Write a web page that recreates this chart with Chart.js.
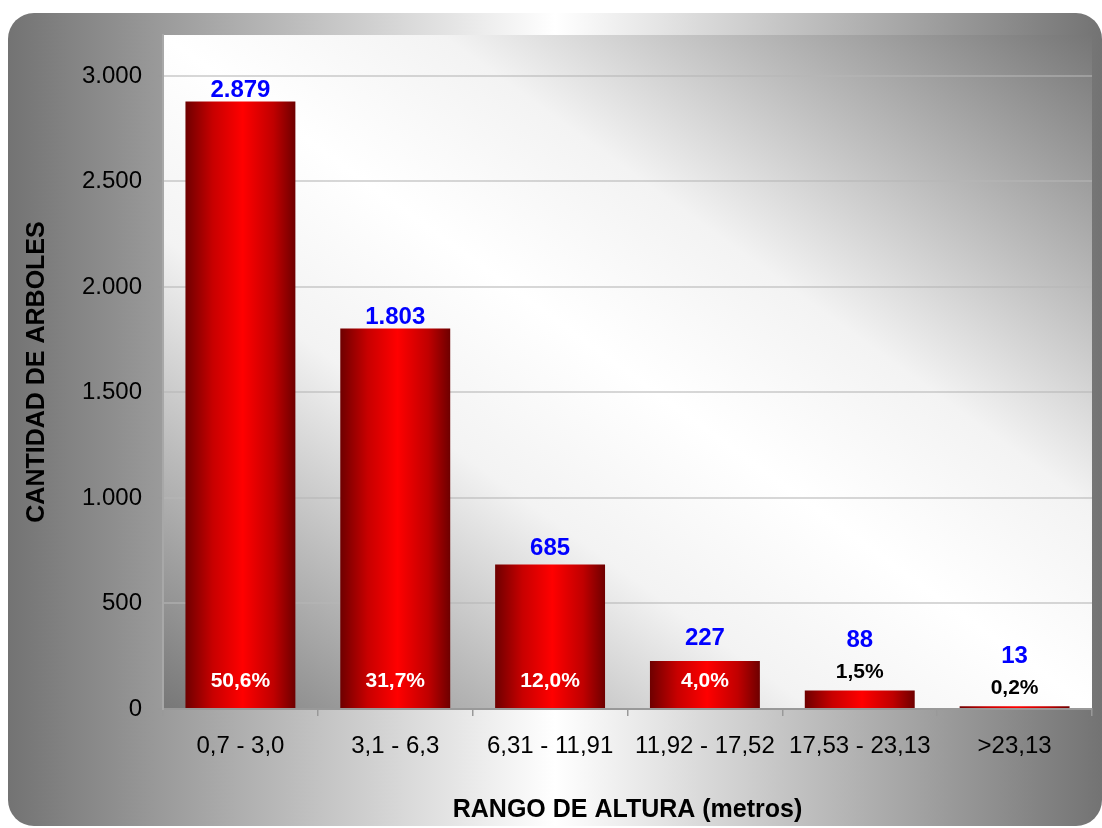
<!DOCTYPE html>
<html>
<head>
<meta charset="utf-8">
<title>Cantidad de árboles por rango de altura</title>
<script src="https://cdn.jsdelivr.net/npm/chart.js@4/dist/chart.umd.min.js"></script>
<style>
  html, body { margin: 0; padding: 0; background: #fff; }
  #grafico-wrap { width: 1102px; height: 828px; }
</style>
</head>
<body>
<div id="grafico-wrap"><canvas id="alturas"></canvas></div>
<script>
"use strict";

// Datos
var rangos = ["0,7 - 3,0", "3,1 - 6,3", "6,31 - 11,91", "11,92 - 17,52", "17,53 - 23,13", ">23,13"];
var arboles = [2879, 1803, 685, 227, 88, 13];
var porcentajes = [50.6, 31.7, 12.0, 4.0, 1.5, 0.2];
var ticksY = [0, 500, 1000, 1500, 2000, 2500, 3000];

var FUENTE = '"Liberation Sans", Arial, sans-serif';
Chart.defaults.font.family = FUENTE;

function miles(v) {
	return String(v).replace(/\B(?=(\d{3})+(?!\d))/g, '.');
}
function porciento(p) {
	return p.toFixed(1).replace('.', ',') + '%';
}

// fondo gris redondeado + degradado diagonal del area de trazado
var fondo = {
	id: 'fondo',
	beforeDraw: function(chart) {
		var ctx = chart.ctx, a = chart.chartArea;
		ctx.save();
		var g = ctx.createLinearGradient(8, 0, 1102, 0);
		g.addColorStop(0, '#737373');
		g.addColorStop(0.5, '#ffffff');
		g.addColorStop(1, '#737373');
		ctx.fillStyle = g;
		ctx.beginPath();
		ctx.roundRect(8, 13, 1094, 813, 26);
		ctx.fill();

		// degradado perpendicular a la diagonal sup-izq -> inf-der
		var w = a.right - a.left, h = a.bottom - a.top;
		var cx = a.left + w / 2, cy = a.top + h / 2;
		var len = Math.sqrt(w * w + h * h);
		var nx = h / len, ny = -w / len;
		var k = Math.abs((-w / 2) * nx + (h / 2) * ny);
		var g2 = ctx.createLinearGradient(cx - k * nx, cy - k * ny, cx + k * nx, cy + k * ny);
		g2.addColorStop(0, '#777777');
		g2.addColorStop(0.2, '#bdbdbd');
		g2.addColorStop(0.35, '#f3f3f3');
		g2.addColorStop(0.5, '#ffffff');
		g2.addColorStop(0.65, '#f3f3f3');
		g2.addColorStop(0.8, '#bdbdbd');
		g2.addColorStop(1, '#767676');
		ctx.fillStyle = g2;
		ctx.fillRect(a.left, a.top, w, h);
		ctx.restore();
	}
};

// cantidad (azul) y porcentaje sobre cada barra
var etiquetas = {
	id: 'etiquetas',
	afterDatasetsDraw: function(chart) {
		var ctx = chart.ctx;
		var meta = chart.getDatasetMeta(0);
		ctx.save();
		ctx.textAlign = 'center';
		ctx.textBaseline = 'middle';
		meta.data.forEach(function(bar, i) {
			var alto = bar.base - bar.y;
			var yVal;
			ctx.font = 'bold 21px ' + FUENTE;
			if (alto > 40) {
				ctx.fillStyle = '#ffffff';
				ctx.fillText(porciento(porcentajes[i]), bar.x, bar.base - 27);
				yVal = bar.y - (alto > 300 ? 11 : alto > 80 ? 16 : 23);
			} else {
				ctx.fillStyle = '#000000';
				ctx.fillText(porciento(porcentajes[i]), bar.x, bar.y - 18);
				yVal = bar.y - 50;
			}
			ctx.font = 'bold 24px ' + FUENTE;
			ctx.fillStyle = '#0000ff';
			ctx.fillText(miles(arboles[i]), bar.x, yVal);
		});
		ctx.restore();
	}
};

function rojoBarra(c) {
	var chart = c.chart, x = chart.scales.x;
	if (!chart.chartArea || !x || !x.width) return '#e00000';
	var centro = x.getPixelForValue(c.dataIndex);
	var ancho = (x.width / rangos.length) * 0.71;
	var g = chart.ctx.createLinearGradient(centro - ancho / 2, 0, centro + ancho / 2, 0);
	g.addColorStop(0, '#6e0000');
	g.addColorStop(0.25, '#c80000');
	g.addColorStop(0.52, '#ff0000');
	g.addColorStop(0.8, '#c00000');
	g.addColorStop(1, '#6e0000');
	return g;
}

var ctx = document.getElementById("alturas");
var grafico = new Chart(ctx, {
	type: 'bar',
	data: {
		labels: rangos,
		datasets: [{
			data: arboles,
			backgroundColor: rojoBarra,
			borderWidth: 0,
			barPercentage: 0.71,
			categoryPercentage: 1
		}]
	},
	options: {
		responsive: true,
		maintainAspectRatio: false,
		animation: false,
		layout: { padding: { top: 35, right: 10, bottom: 0, left: 0 } },
		plugins: {
			legend: { display: false },
			tooltip: { enabled: false },
			title: { display: false }
		},
		scales: {
			x: {
				grid: {
					display: true,
					drawOnChartArea: false,
					drawTicks: true,
					tickLength: 7,
					offset: true,
					color: '#999999',
					lineWidth: 1.5
				},
				border: { color: '#999999', width: 2 },
				ticks: { color: '#000', font: { size: 24 }, padding: 16, maxRotation: 0 },
				title: {
					display: true,
					text: 'RANGO DE ALTURA (metros)',
					color: '#000',
					font: { size: 25, weight: 'bold' },
					padding: { top: 0, bottom: 3 }
				},
				afterFit: function(scale) { scale.height = 119; }
			},
			y: {
				min: 0,
				max: 3194,
				afterBuildTicks: function(scale) {
					scale.ticks = ticksY.map(function(v) { return { value: v }; });
				},
				grid: {
					color: 'rgba(182, 182, 182, 0.55)',
					lineWidth: 2,
					tickLength: 8,
					tickColor: '#999999'
				},
				border: { color: '#a8a8a8', width: 2 },
				ticks: {
					color: '#000',
					font: { size: 24 },
					padding: 13,
					callback: function(v) { return miles(v); }
				},
				title: {
					display: true,
					text: 'CANTIDAD DE ARBOLES',
					color: '#000',
					font: { size: 25, weight: 'bold' },
					padding: { top: 22, bottom: 0 }
				},
				afterFit: function(scale) { scale.width = 163; }
			}
		}
	},
	plugins: [fondo, etiquetas]
});
</script>
</body>
</html>
